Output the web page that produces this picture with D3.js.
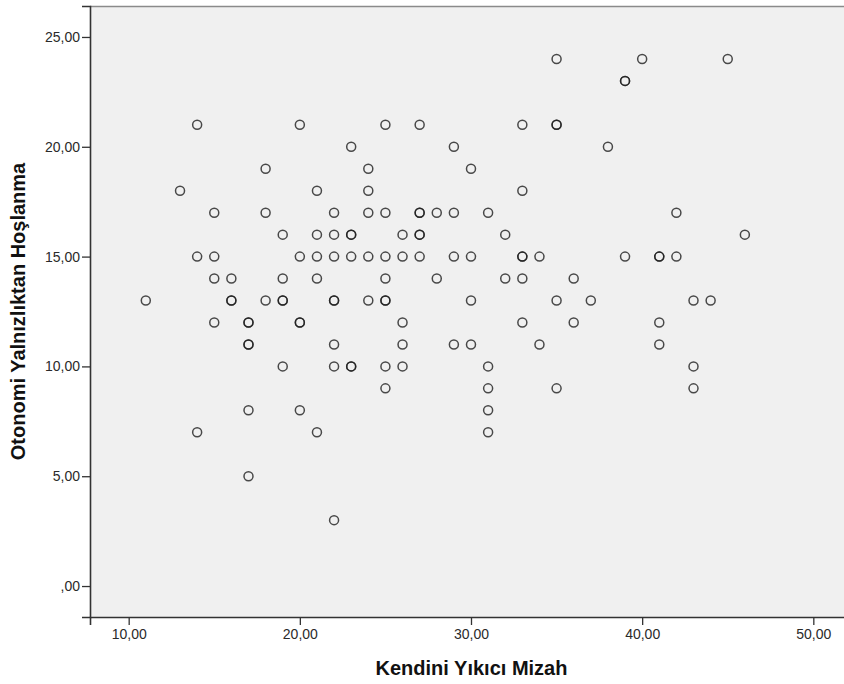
<!DOCTYPE html>
<html>
<head>
<meta charset="utf-8">
<script src="https://cdn.jsdelivr.net/npm/d3@7"></script>
<style>
  html, body { margin: 0; padding: 0; background: #ffffff; }
  svg { display: block; }
</style>
</head>
<body>
<svg id="chart" width="844" height="684"></svg>
<script>
// ---- data (Kendini Yıkıcı Mizah = x, Otonomi Yalnızlıktan Hoşlanma = y) ----
const yLevels = [24, 23, 21, 20, 19, 18, 17, 16, 15, 14, 13, 12, 11, 10, 9, 8, 7, 5, 3];
const xAtLevel = [
  [35, 40, 45],
  [39, 39],
  [14, 20, 25, 27, 33, 35, 35],
  [23, 29, 38],
  [18, 24, 30],
  [13, 21, 24, 33],
  [15, 18, 22, 24, 25, 27, 27, 28, 29, 31, 42],
  [19, 21, 22, 23, 23, 26, 27, 27, 32, 46],
  [14, 15, 20, 21, 22, 23, 24, 25, 26, 27, 29, 30, 33, 33, 34, 39, 41, 41, 42],
  [15, 16, 19, 21, 25, 28, 32, 33, 36],
  [11, 16, 16, 18, 19, 19, 22, 22, 24, 25, 25, 30, 35, 37, 43, 44],
  [15, 17, 17, 20, 20, 26, 33, 36, 41],
  [17, 17, 22, 26, 29, 30, 34, 41],
  [19, 22, 23, 23, 25, 26, 31, 43],
  [25, 31, 35, 43],
  [17, 20, 31],
  [14, 21, 31],
  [17],
  [22]
];
const xTicks = [10, 20, 30, 40, 50];
const yTicks = [0, 5, 10, 15, 20, 25];
const xTitle = "Kendini Yıkıcı Mizah";
const yTitle = "Otonomi Yalnızlıktan Hoşlanma";

const points = [];
yLevels.forEach((y, i) => xAtLevel[i].forEach(x => points.push({x, y})));

// ---- layout ----
const plot = {left: 90, right: 852, top: 6, bottom: 617};
const x = d3.scaleLinear().domain([7.74, 52.26]).range([plot.left, plot.right]);
const y = d3.scaleLinear().domain([-1.41, 26.41]).range([plot.bottom, plot.top]);

const fmt = v => v === 0 ? ",00" : d3.format(".2f")(v).replace(".", ",");

const svg = d3.select("#chart");

svg.append("rect")
  .attr("x", plot.left).attr("y", plot.top)
  .attr("width", plot.right - plot.left).attr("height", plot.bottom - plot.top)
  .attr("fill", "#f0f0f0");

// top border
svg.append("line")
  .attr("x1", plot.left).attr("x2", plot.right)
  .attr("y1", plot.top + 0.5).attr("y2", plot.top + 0.5)
  .attr("stroke", "#8a8a8a").attr("stroke-width", 1.5);

// axes
const xAxis = svg.append("g")
  .attr("transform", `translate(0,${plot.bottom})`)
  .call(d3.axisBottom(x).tickValues(xTicks).tickFormat(fmt).tickSize(8).tickPadding(4));
const yAxis = svg.append("g")
  .attr("transform", `translate(${plot.left},0)`)
  .call(d3.axisLeft(y).tickValues(yTicks).tickFormat(fmt).tickSize(8).tickPadding(2));

[xAxis, yAxis].forEach(g => {
  g.select(".domain").attr("stroke", "#333").attr("stroke-width", 1.6);
  g.selectAll(".tick line").attr("stroke", "#333").attr("stroke-width", 1.3);
  g.selectAll(".tick text")
    .attr("fill", "#2a2a2a")
    .style("font-family", "'Liberation Sans', Arial, sans-serif")
    .style("font-size", "14px");
});
xAxis.selectAll(".tick text").attr("dy", "0.71em");

// points
svg.append("g")
  .selectAll("circle")
  .data(points)
  .join("circle")
  .attr("cx", d => x(d.x))
  .attr("cy", d => y(d.y))
  .attr("r", 4.5)
  .attr("fill", "none")
  .attr("stroke", "#1e1e1e")
  .attr("stroke-opacity", 0.8)
  .attr("stroke-width", 1.5);

// titles
svg.append("text")
  .attr("x", 471.5).attr("y", 675)
  .attr("text-anchor", "middle")
  .style("font-family", "'Liberation Sans', Arial, sans-serif")
  .style("font-weight", "bold")
  .style("font-size", "20px")
  .attr("fill", "#111")
  .text(xTitle);

svg.append("text")
  .attr("transform", `translate(25,${(plot.top + plot.bottom) / 2}) rotate(-90)`)
  .attr("text-anchor", "middle")
  .style("font-family", "'Liberation Sans', Arial, sans-serif")
  .style("font-weight", "bold")
  .style("font-size", "20px")
  .attr("fill", "#111")
  .text(yTitle);
</script>
</body>
</html>
